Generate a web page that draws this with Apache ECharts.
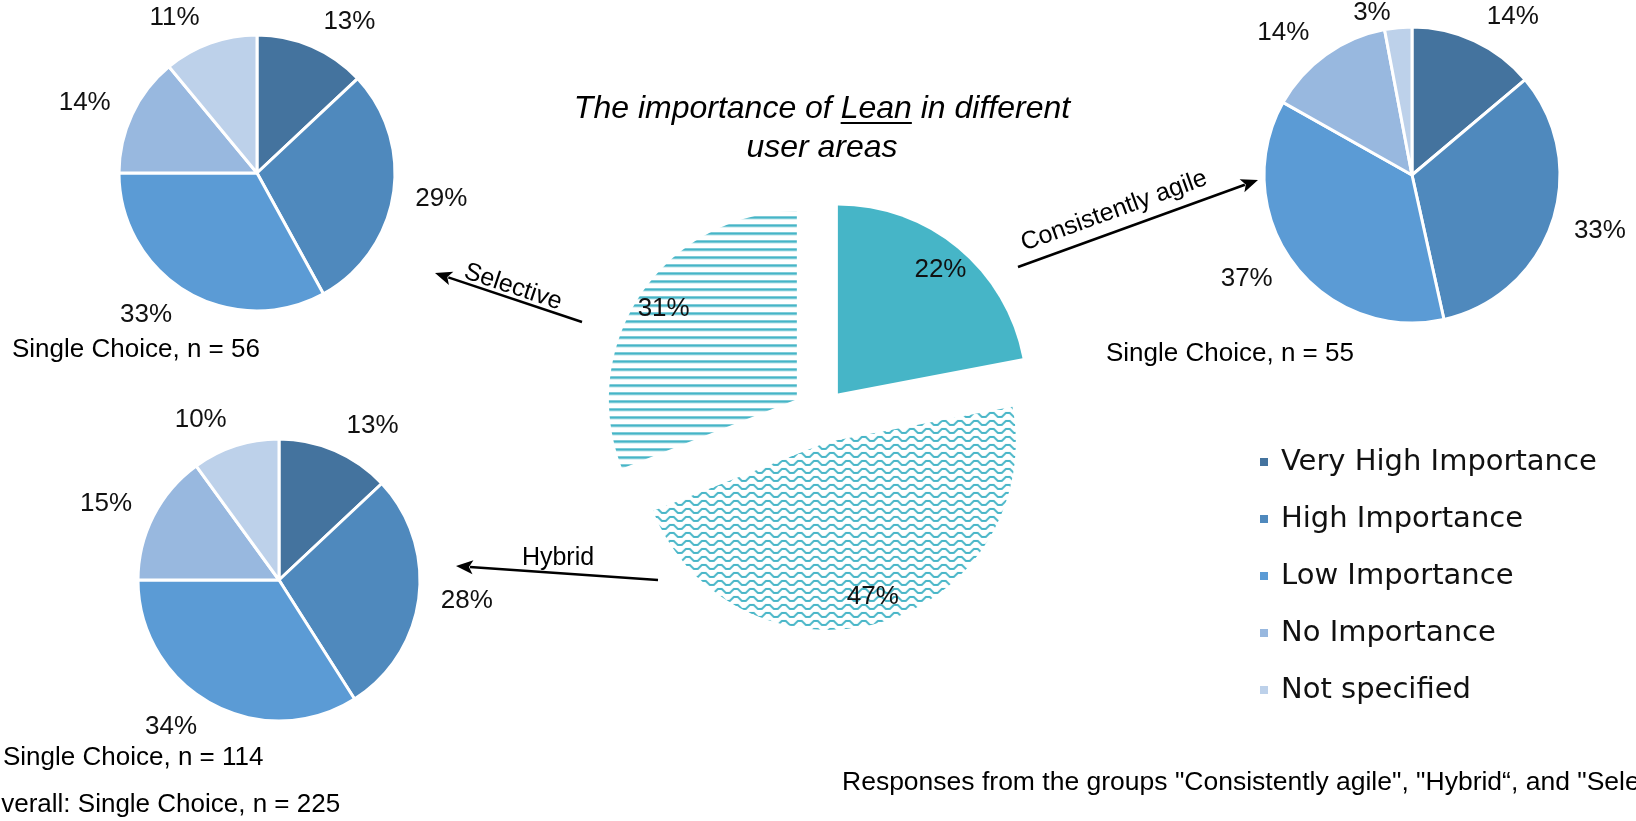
<!DOCTYPE html>
<html><head><meta charset="utf-8">
<script src="https://cdn.jsdelivr.net/npm/echarts@6/dist/echarts.min.js"></script>
<style>html,body{margin:0;padding:0;background:#fff;overflow:hidden}#c{width:1636px;height:821px}</style>
</head><body><div id="c"></div>
<script>
// ---------- data ----------
const categories = ['Very High Importance', 'High Importance', 'Low Importance', 'No Importance', 'Not specified'];
const selectiveValues = [13, 29, 33, 14, 11];
const agileValues = [14, 33, 37, 14, 3];
const hybridValues = [13, 28, 34, 15, 10];
const groups = ['Consistently agile', 'Hybrid', 'Selective'];
const groupValues = [22, 47, 31];
const titleBefore = 'The importance of ';
const titleLean = 'Lean';
const titleAfter = ' in different';
const titleLine2 = 'user areas';
const noteSelective = 'Single Choice, n = 56';
const noteAgile = 'Single Choice, n = 55';
const noteHybrid = 'Single Choice, n = 114';
const noteOverall = 'Overall: Single Choice, n = 225';
const noteResponses = 'Responses from the groups "Consistently agile", "Hybrid\u201C, and "Selective"';

// ---------- styles ----------
const FONT = '"Liberation Sans", Arial, sans-serif';
const BLUES = ['#44739E', '#4F89BD', '#5B9BD5', '#98B8DF', '#BDD1EA'];
const TEAL = '#46B5C7';

function stripePattern() {
  const c = document.createElement('canvas'); c.width = 8; c.height = 8;
  const g = c.getContext('2d'); g.fillStyle = TEAL; g.fillRect(0, 0, 8, 2.6);
  return { image: c, repeat: 'repeat' };
}
function wavePattern() {
  const c = document.createElement('canvas'); c.width = 16; c.height = 8;
  const g = c.getContext('2d'); g.strokeStyle = TEAL; g.lineWidth = 1.8;
  g.beginPath(); g.moveTo(-2, 6); g.lineTo(2, 6); g.lineTo(6, 2); g.lineTo(10, 2); g.lineTo(14, 6); g.lineTo(18, 6); g.stroke();
  return { image: c, repeat: 'repeat' };
}
const centerFills = [TEAL, wavePattern(), stripePattern()];

// outside-end style label placement: labels sit just outside the pie edge,
// a bit further out sideways than vertically, and stay inside the canvas top.
function outsideEnd(cx, cy, r) {
  return function (p) {
    const rc = p.labelRect;
    const lx = rc.x + rc.width / 2, ly = rc.y + rc.height / 2;
    const d = Math.hypot(lx - cx, ly - cy) || 1;
    const ux = (lx - cx) / d, uy = (ly - cy) / d;
    const tx = cx + ux * (r + 48) + Math.sign(ux) * 22 * uy * uy;
    let ty = cy + uy * (r + 27);
    if (ty < 13) ty = 13;
    return { dx: tx - lx, dy: ty - ly };
  };
}

function smallPie(values, center, r) {
  const base = {
    type: 'pie', center: center, radius: [0, r], startAngle: 90, clockwise: true,
    data: categories.map((n, i) => ({ name: n, value: values[i], itemStyle: { color: BLUES[i] } })),
    itemStyle: { borderColor: '#fff', borderWidth: 3 },
    label: { show: false }, labelLine: { show: false }, emphasis: { disabled: true }
  };
  const lab = {
    type: 'pie', center: center, radius: [r, r + 80], startAngle: 90, clockwise: true,
    data: categories.map((n, i) => ({ name: n, value: values[i] })),
    itemStyle: { color: 'rgba(0,0,0,0)' },
    label: { show: true, position: 'inside', formatter: '{c}%', color: '#111', fontSize: 26, fontFamily: FONT },
    labelLine: { show: false }, emphasis: { disabled: true }, silent: true,
    labelLayout: outsideEnd(center[0], center[1], r)
  };
  return [base, lab];
}

const series = [].concat(
  smallPie(selectiveValues, [257, 173], 138),
  smallPie(agileValues, [1412, 175], 148),
  smallPie(hybridValues, [279, 580], 141),
  [{
    type: 'pie', center: [820, 415], radius: [0, 188], startAngle: 90, clockwise: true,
    selectedMode: 'multiple', selectedOffset: 28,
    data: groups.map((n, i) => ({ name: n, value: groupValues[i], selected: true, itemStyle: { color: centerFills[i] } })),
    label: { show: false }, labelLine: { show: false }, emphasis: { disabled: true }
  }, {
    type: 'pie', center: [820, 415], radius: [128, 188], startAngle: 90, clockwise: true,
    selectedMode: 'multiple', selectedOffset: 28,
    data: groups.map((n, i) => ({ name: n, value: groupValues[i], selected: true })),
    itemStyle: { color: 'rgba(0,0,0,0)' },
    label: { show: true, position: 'inside', formatter: '{c}%', color: '#111', fontSize: 26, fontFamily: FONT },
    labelLine: { show: false }, emphasis: { disabled: true }
  }]
);

// ---------- decorations ----------
function txt(s, x, y, size, opts) {
  opts = opts || {};
  const align = opts.align || 'left';
  return {
    type: 'text', x: x, y: y, rotation: opts.rotation || 0, silent: true,
    style: {
      text: s, x: 0, y: 0, fill: '#000',
      font: (opts.italic ? 'italic ' : '') + size + 'px ' + FONT,
      align: align, textAlign: align, verticalAlign: 'middle', textVerticalAlign: 'middle'
    }
  };
}
function arrow(x1, y1, x2, y2) {
  const a = Math.atan2(y2 - y1, x2 - x1), L = 17, W = 7;
  const bx = x2 - L * Math.cos(a), by = y2 - L * Math.sin(a);
  const px = -Math.sin(a) * W, py = Math.cos(a) * W;
  return [
    { type: 'line', silent: true, shape: { x1: x1, y1: y1, x2: bx + 3 * Math.cos(a), y2: by + 3 * Math.sin(a) }, style: { stroke: '#000', lineWidth: 2.5 } },
    { type: 'polygon', silent: true, shape: { points: [[x2, y2], [bx + px, by + py], [bx + 4 * Math.cos(a), by + 4 * Math.sin(a)], [bx - px, by - py]] }, style: { fill: '#000' } }
  ];
}

// title measured for underline placement
const titleFont = 'italic 32px ' + FONT;
const mc = document.createElement('canvas').getContext('2d'); mc.font = titleFont;
const line1 = titleBefore + titleLean + titleAfter;
const w1 = mc.measureText(line1).width;
const titleCx = 822;
const leanX0 = titleCx - w1 / 2 + mc.measureText(titleBefore).width;
const leanX1 = leanX0 + mc.measureText(titleLean).width;

const graphics = [].concat(
  [txt(line1, titleCx, 109, 32, { italic: true, align: 'center' }),
   txt(titleLine2, titleCx, 148, 32, { italic: true, align: 'center' }),
   { type: 'line', silent: true, shape: { x1: leanX0, y1: 123, x2: leanX1, y2: 123 }, style: { stroke: '#000', lineWidth: 2 } }],
  arrow(582, 322, 435, 273),
  [txt('Selective', 513, 287, 25, { align: 'center', rotation: -Math.atan2(49, 147) })],
  arrow(658, 580, 456, 566),
  [txt('Hybrid', 558, 558, 25, { align: 'center' })],
  arrow(1018, 267, 1258, 180),
  [txt('Consistently agile', 1114, 211, 25, { align: 'center', rotation: Math.atan2(87, 240) })],
  [txt(noteSelective, 12, 350, 26),
   txt(noteAgile, 1106, 354, 26),
   txt(noteHybrid, 3, 758, 26),
   txt(noteOverall, -19, 805, 26),
   txt(noteResponses, 842, 783, 26.5)]
);

const chart = echarts.init(document.getElementById('c'), null, { renderer: 'canvas' });
chart.setOption({
  animation: false,
  backgroundColor: '#fff',
  legend: {
    data: categories, orient: 'vertical', left: 1253, top: 442,
    icon: 'rect', itemWidth: 10, itemHeight: 10, itemGap: 27, selectedMode: false,
    textStyle: { fontSize: 29, lineHeight: 30, fontFamily: '"DejaVu Sans", ' + FONT, color: '#111', padding: [0, 0, 0, 7] }
  },
  series: series,
  graphic: { elements: graphics }
});
</script></body></html>
